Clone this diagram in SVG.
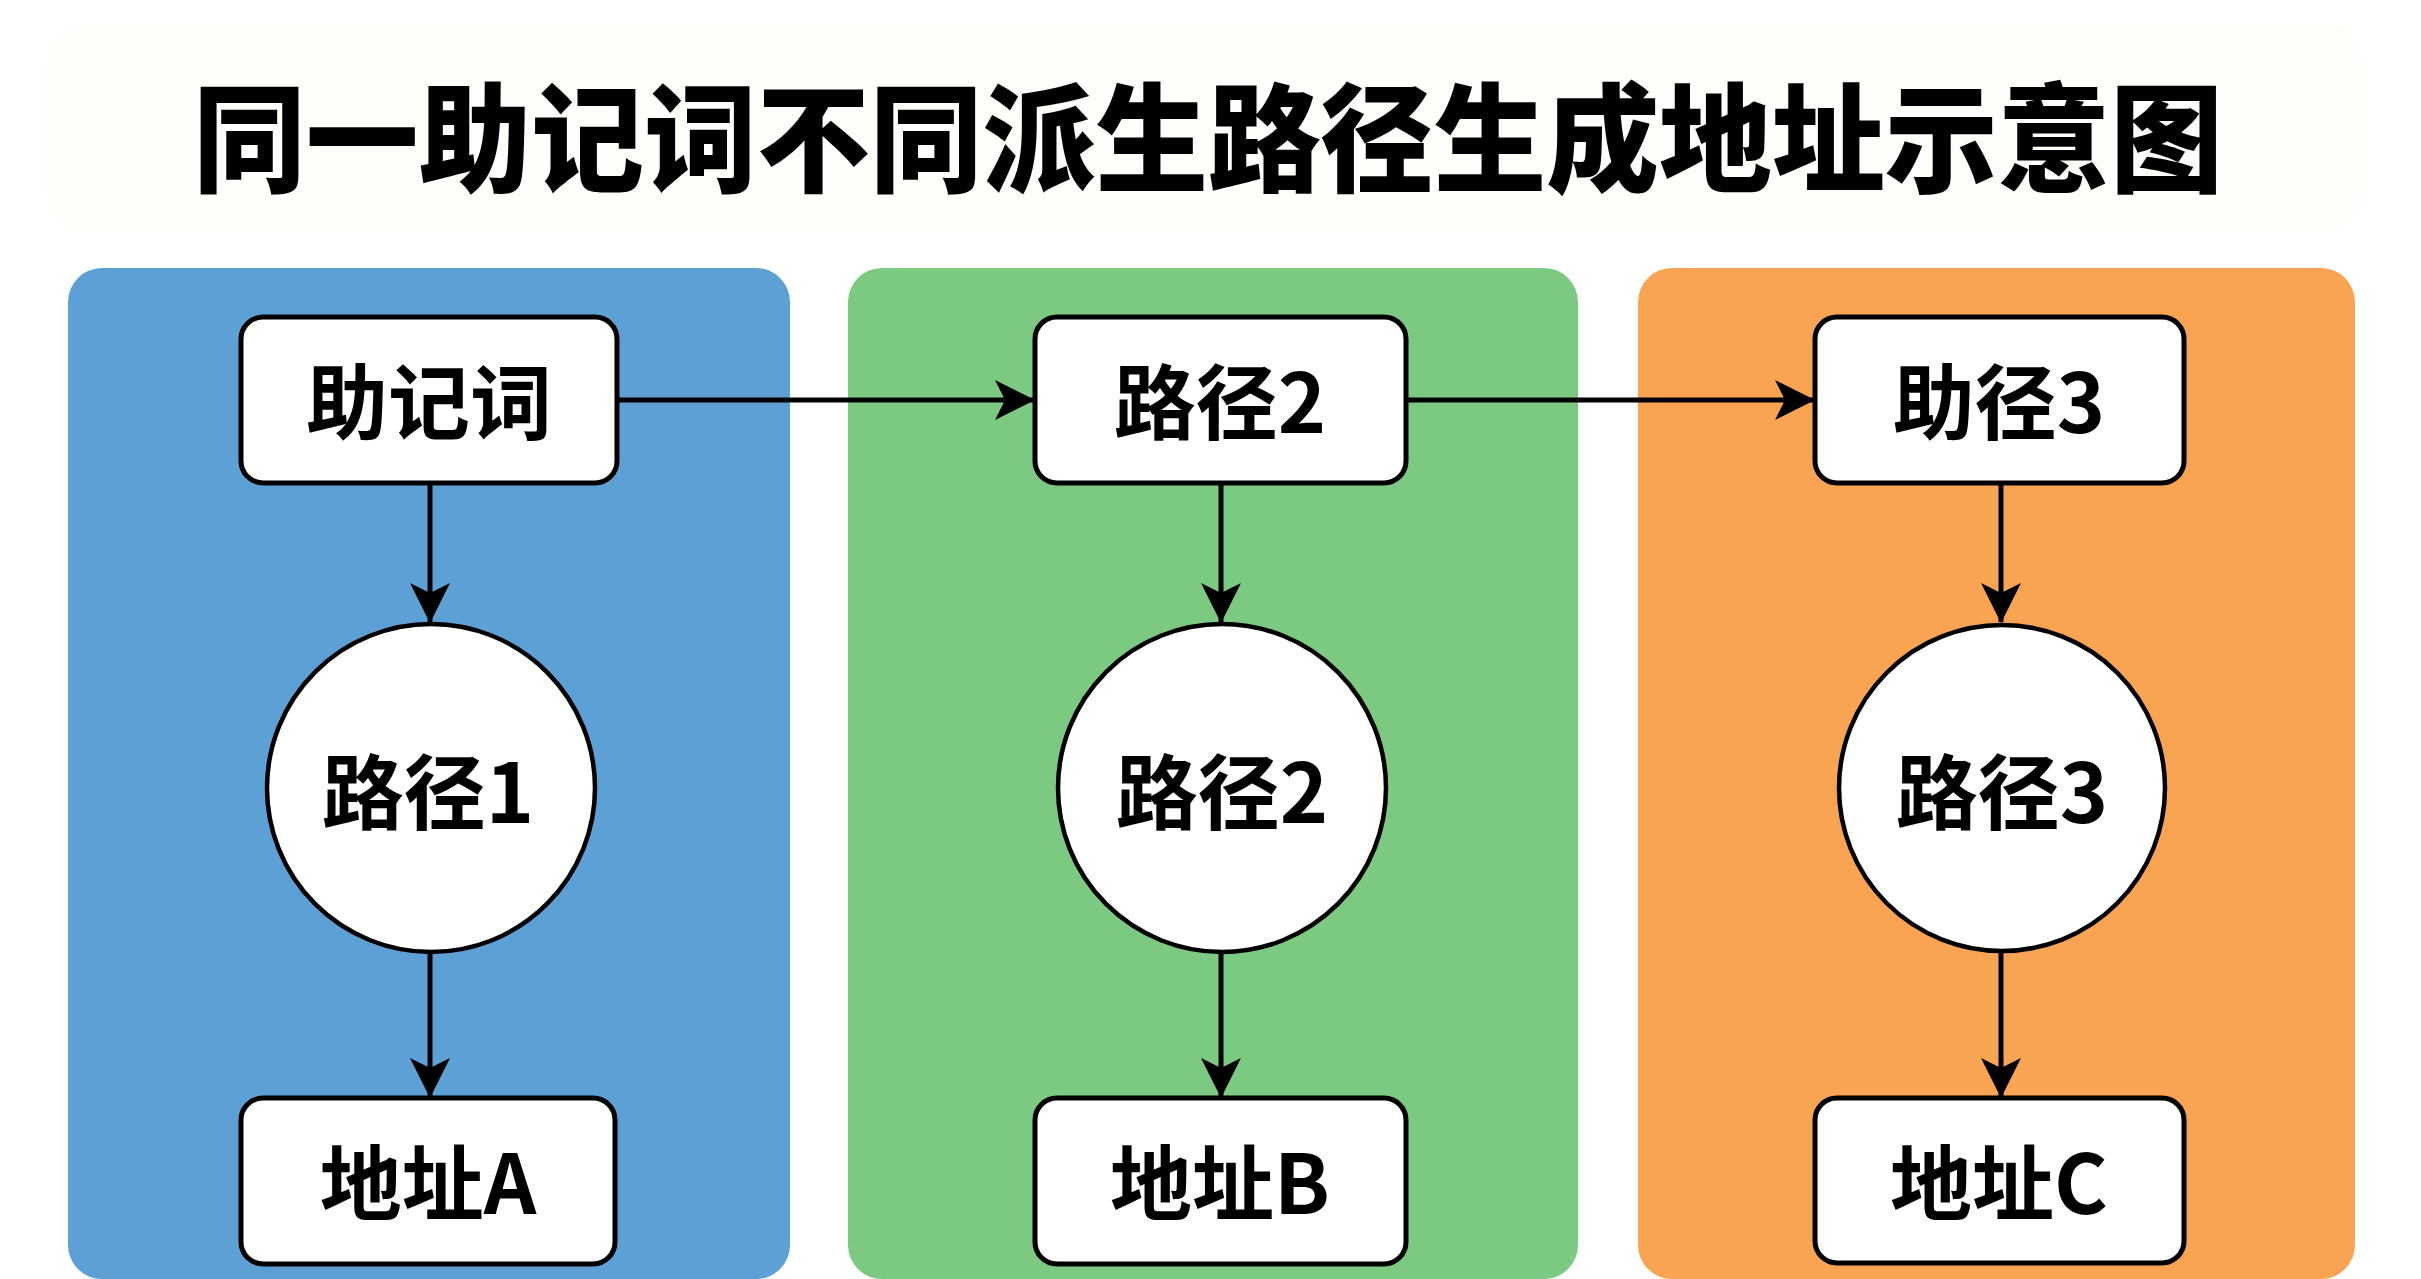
<svg xmlns="http://www.w3.org/2000/svg" width="2421" height="1279" viewBox="0 0 2421 1279">
  <defs>
    <marker id="arrow" markerUnits="userSpaceOnUse" viewBox="0 0 40 40" markerWidth="40" markerHeight="40" refX="39" refY="20" orient="auto">
      <path d="M0,0 L40,20 L0,40 L10,20 Z" fill="#000"/>
    </marker>
    <style>
      .panel { stroke: none; }
      .box { fill: #ffffff; stroke: #000000; stroke-width: 5; }
      .circ { fill: #ffffff; stroke: #000000; stroke-width: 4.5; }
      .lbl { font-family: "Noto Sans CJK SC", "Noto Sans", "Liberation Sans", sans-serif; font-weight: 700; font-size: 82px; fill: #000; text-anchor: middle; dominant-baseline: central; }
      .title { font-family: "Noto Sans CJK SC", "Noto Sans", "Liberation Sans", sans-serif; font-weight: 900; font-size: 118px; fill: #000; text-anchor: middle; dominant-baseline: central; }
      .conn { stroke: #000; stroke-width: 5; fill: none; marker-end: url(#arrow); }
    </style>
  </defs>
  <rect x="0" y="0" width="2421" height="1279" fill="#ffffff"/>
  <rect x="46" y="24" width="2318" height="210" rx="40" fill="#fefefa"/>
  <text class="title" x="1208" y="131" textLength="2030" lengthAdjust="spacingAndGlyphs">同一助记词不同派生路径生成地址示意图</text>

  <g id="panel-blue"><rect class="panel" x="68" y="268" width="722" height="1011" rx="34" fill="#5ca0d6"/></g>
  <g id="panel-green"><rect class="panel" x="848" y="268" width="730" height="1011" rx="34" fill="#7cc981"/></g>
  <g id="panel-orange"><rect class="panel" x="1638" y="268" width="717" height="1011" rx="34" fill="#f9a452"/></g>

  <g id="connectors">
    <line class="conn" x1="430" y1="483" x2="430" y2="622"/>
    <line class="conn" x1="430" y1="952" x2="430" y2="1097"/>
    <line class="conn" x1="1221" y1="483" x2="1221" y2="622"/>
    <line class="conn" x1="1221" y1="952" x2="1221" y2="1097"/>
    <line class="conn" x1="2001" y1="483" x2="2001" y2="622"/>
    <line class="conn" x1="2001" y1="952" x2="2001" y2="1097"/>
    <line class="conn" x1="617" y1="400" x2="1034" y2="400"/>
    <line class="conn" x1="1406" y1="400" x2="1814" y2="400"/>
  </g>

  <g id="node-mnemonic">
    <rect class="box" x="241" y="317" width="376" height="166" rx="22"/>
    <text class="lbl" x="429" y="397">助记词</text>
  </g>
  <g id="node-path1">
    <circle class="circ" cx="431" cy="788" r="164"/>
    <text class="lbl" x="428" y="787">路径1</text>
  </g>
  <g id="node-addrA">
    <rect class="box" x="241" y="1098" width="374" height="166" rx="22"/>
    <text class="lbl" x="428" y="1178">地址A</text>
  </g>

  <g id="node-path2-top">
    <rect class="box" x="1035" y="317" width="371" height="166" rx="22"/>
    <text class="lbl" x="1220" y="397">路径2</text>
  </g>
  <g id="node-path2">
    <circle class="circ" cx="1222" cy="788" r="164"/>
    <text class="lbl" x="1222" y="787">路径2</text>
  </g>
  <g id="node-addrB">
    <rect class="box" x="1035" y="1098" width="371" height="166" rx="22"/>
    <text class="lbl" x="1220" y="1178">地址B</text>
  </g>

  <g id="node-path3-top">
    <rect class="box" x="1815" y="317" width="369" height="166" rx="22"/>
    <text class="lbl" x="1999" y="397">助径3</text>
  </g>
  <g id="node-path3">
    <circle class="circ" cx="2002" cy="788" r="163"/>
    <text class="lbl" x="2002" y="787">路径3</text>
  </g>
  <g id="node-addrC">
    <rect class="box" x="1815" y="1098" width="369" height="165" rx="22"/>
    <text class="lbl" x="1999" y="1178">地址C</text>
  </g>
</svg>
